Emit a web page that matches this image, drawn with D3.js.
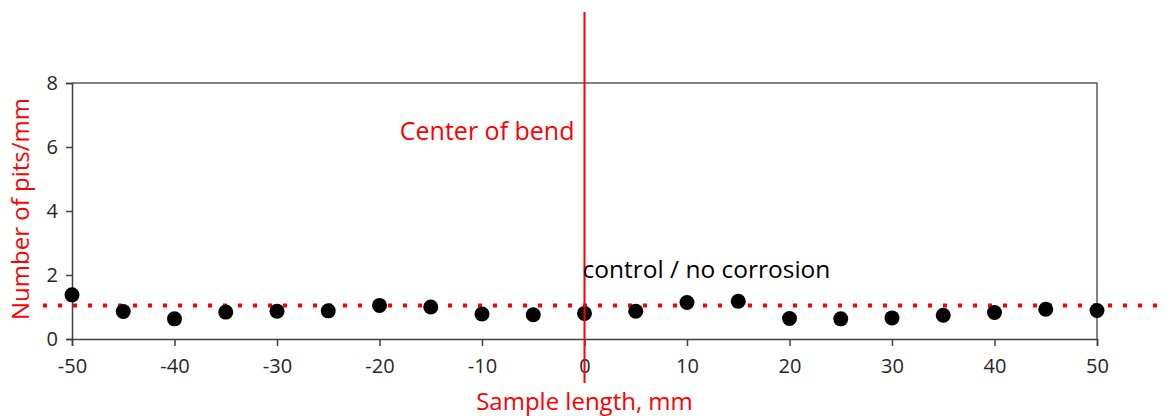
<!DOCTYPE html>
<html>
<head>
<meta charset="utf-8">
<script src="https://cdn.jsdelivr.net/npm/d3@7"></script>
<style>
  html, body { margin: 0; padding: 0; background: #fff; }
  svg { display: block; font-family: "Open Sans", sans-serif; }
</style>
</head>
<body>
<svg id="chart" width="1167" height="416"></svg>
<script>
// sample positions (mm) and measured pit density (pits/mm)
const positions = [-50, -45, -40, -35, -30, -25, -20, -15, -10, -5, 0, 5, 10, 15, 20, 25, 30, 35, 40, 45, 50];
const pits = [1.38, 0.86, 0.63, 0.84, 0.87, 0.88, 1.05, 1.0, 0.78, 0.76, 0.80, 0.87, 1.14, 1.18, 0.64, 0.63, 0.66, 0.74, 0.83, 0.93, 0.89];
const xTicks = [-50, -40, -30, -20, -10, 0, 10, 20, 30, 40, 50];
const yTicks = [0, 2, 4, 6, 8];
const controlLevel = 1.05;
const bendCenter = 0;

const svg = d3.select('#chart');
const margin = { top: 83, right: 70, bottom: 77, left: 72 };
const width = +svg.attr('width');
const height = +svg.attr('height');
const innerWidth = width - margin.left - margin.right;
const innerHeight = height - margin.top - margin.bottom;

const x = d3.scaleLinear().domain([-50, 50]).range([0, innerWidth]);
const y = d3.scaleLinear().domain([0, 8]).range([innerHeight, 0]);

const g = svg.append('g').attr('transform', `translate(${margin.left},${margin.top})`);

// frame top/right
g.append('path')
  .attr('d', `M0,${y(8)}H${x(50)}V${y(0)}`)
  .attr('fill', 'none')
  .attr('stroke', '#595959')
  .attr('stroke-width', 1.5);

const xAxis = g.append('g')
  .attr('transform', `translate(0,${innerHeight})`)
  .call(d3.axisBottom(x).tickValues(xTicks).tickFormat(d => String(d)).tickSize(7).tickPadding(13));
const yAxis = g.append('g')
  .call(d3.axisLeft(y).tickValues(yTicks).tickFormat(d => String(d)).tickSize(6).tickPadding(8));

[xAxis, yAxis].forEach(a => {
  a.attr('font-size', null).attr('font-family', null);
  a.select('.domain').attr('stroke', '#404040').attr('stroke-width', 1.5);
  a.selectAll('.tick line').attr('stroke', '#404040').attr('stroke-width', 1.5);
  a.selectAll('.tick text')
    .attr('fill', '#262626')
    .style('font-size', '20px')
    .style('font-family', 'Open Sans, sans-serif');
});

// control level dotted line
g.append('line')
  .attr('x1', -29)
  .attr('x2', width - margin.left - 8)
  .attr('y1', y(controlLevel))
  .attr('y2', y(controlLevel))
  .attr('stroke', '#ff0000')
  .attr('stroke-width', 4)
  .attr('stroke-dasharray', '4 11');

// data points
g.selectAll('circle')
  .data(positions.map((p, i) => ({ p, v: pits[i] })))
  .join('circle')
  .attr('cx', d => x(d.p))
  .attr('cy', d => y(d.v))
  .attr('r', 7.5)
  .attr('fill', '#000');

// center of bend line
g.append('line')
  .attr('x1', x(bendCenter))
  .attr('x2', x(bendCenter))
  .attr('y1', 12 - margin.top)
  .attr('y2', 383 - margin.top)
  .attr('stroke', '#ff0000')
  .attr('stroke-width', 2);

g.append('text')
  .attr('x', x(bendCenter) - 10)
  .attr('y', 140 - margin.top)
  .attr('text-anchor', 'end')
  .attr('fill', '#ff0000')
  .style('font-size', '25px')
  .text('Center of bend');

g.append('text')
  .attr('x', x(bendCenter) - 2)
  .attr('y', 278 - margin.top)
  .attr('fill', '#000')
  .style('font-size', '24.5px')
  .text('control / no corrosion');

// axis titles
svg.append('text')
  .attr('x', margin.left + x(0))
  .attr('y', 410)
  .attr('text-anchor', 'middle')
  .attr('fill', '#ff0000')
  .style('font-size', '24px')
  .text('Sample length, mm');

svg.append('text')
  .attr('transform', `translate(29,${margin.top + y(4) - 2}) rotate(-90)`)
  .attr('text-anchor', 'middle')
  .attr('fill', '#ff0000')
  .style('font-size', '24px')
  .text('Number of pits/mm');
</script>
</body>
</html>
